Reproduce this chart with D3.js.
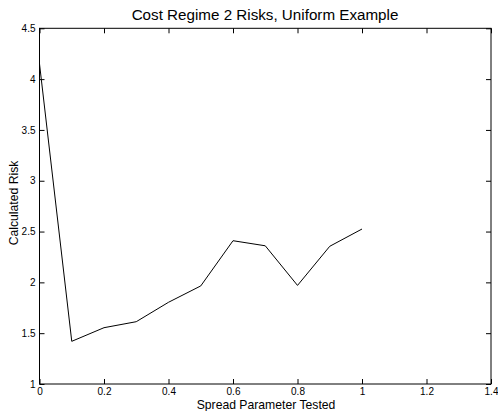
<!DOCTYPE html>
<html><head><meta charset="utf-8">
<script src="https://cdn.jsdelivr.net/npm/d3@7"></script>
<style>body{margin:0;background:#fff}svg{display:block}text{font-family:"Liberation Sans",Arial,sans-serif;fill:#000}</style>
</head><body>
<svg id="c" width="498" height="411"></svg>
<script>
const spread = [0, 0.1, 0.2, 0.3, 0.4, 0.5, 0.6, 0.7, 0.8, 0.9, 1.0];
const risk = [4.15, 1.42, 1.554, 1.613, 1.804, 1.965, 2.41, 2.36, 1.97, 2.355, 2.525];
const xTicks = [0, 0.2, 0.4, 0.6, 0.8, 1, 1.2, 1.4];
const yTicks = [1, 1.5, 2, 2.5, 3, 3.5, 4, 4.5];

const svg = d3.select("#c");
const L = 39.5, R = 491, T = 28.3, B = 384;
const x = d3.scaleLinear().domain([0, 1.4]).range([L, R]);
const y = d3.scaleLinear().domain([1, 4.5]).range([B, T]);
const tl = 5;
const fmt = d => String(d);

svg.append("g").attr("transform", `translate(0,${B})`)
  .call(d3.axisBottom(x).tickValues(xTicks).tickFormat(fmt).tickSizeInner(-tl).tickSizeOuter(0).tickPadding(4))
  .call(g => { g.select(".domain").remove(); g.selectAll("text").attr("font-size", 10).attr("font-family", "Liberation Sans, Arial, sans-serif"); });
svg.append("g").attr("transform", `translate(0,${T})`)
  .call(d3.axisTop(x).tickValues(xTicks).tickFormat("").tickSizeInner(-tl).tickSizeOuter(0))
  .call(g => g.select(".domain").remove());
svg.append("g").attr("transform", `translate(${L},0)`)
  .call(d3.axisLeft(y).tickValues(yTicks).tickFormat(fmt).tickSizeInner(-tl).tickSizeOuter(0).tickPadding(4))
  .call(g => { g.select(".domain").remove(); g.selectAll("text").attr("font-size", 10).attr("font-family", "Liberation Sans, Arial, sans-serif"); });
svg.append("g").attr("transform", `translate(${R},0)`)
  .call(d3.axisRight(y).tickValues(yTicks).tickFormat("").tickSizeInner(-tl).tickSizeOuter(0))
  .call(g => g.select(".domain").remove());
svg.selectAll(".tick line").attr("stroke", "#000");

svg.append("rect").attr("x", L).attr("y", T).attr("width", R - L).attr("height", B - T)
  .attr("fill", "none").attr("stroke", "#000").attr("stroke-width", 1);

svg.append("path").datum(spread.map((s, i) => [s, risk[i]]))
  .attr("fill", "none").attr("stroke", "#000").attr("stroke-width", 1)
  .attr("d", d3.line().x(d => x(d[0])).y(d => y(d[1])));

svg.append("text").attr("x", 265).attr("y", 19.5).attr("text-anchor", "middle").attr("font-size", 15.2)
  .text("Cost Regime 2 Risks, Uniform Example");
svg.append("text").attr("x", 266).attr("y", 409).attr("text-anchor", "middle").attr("font-size", 12.2)
  .text("Spread Parameter Tested");
svg.append("text").attr("transform", `translate(18,203) rotate(-90)`).attr("text-anchor", "middle").attr("font-size", 12.2)
  .text("Calculated Risk");
</script>
</body></html>
